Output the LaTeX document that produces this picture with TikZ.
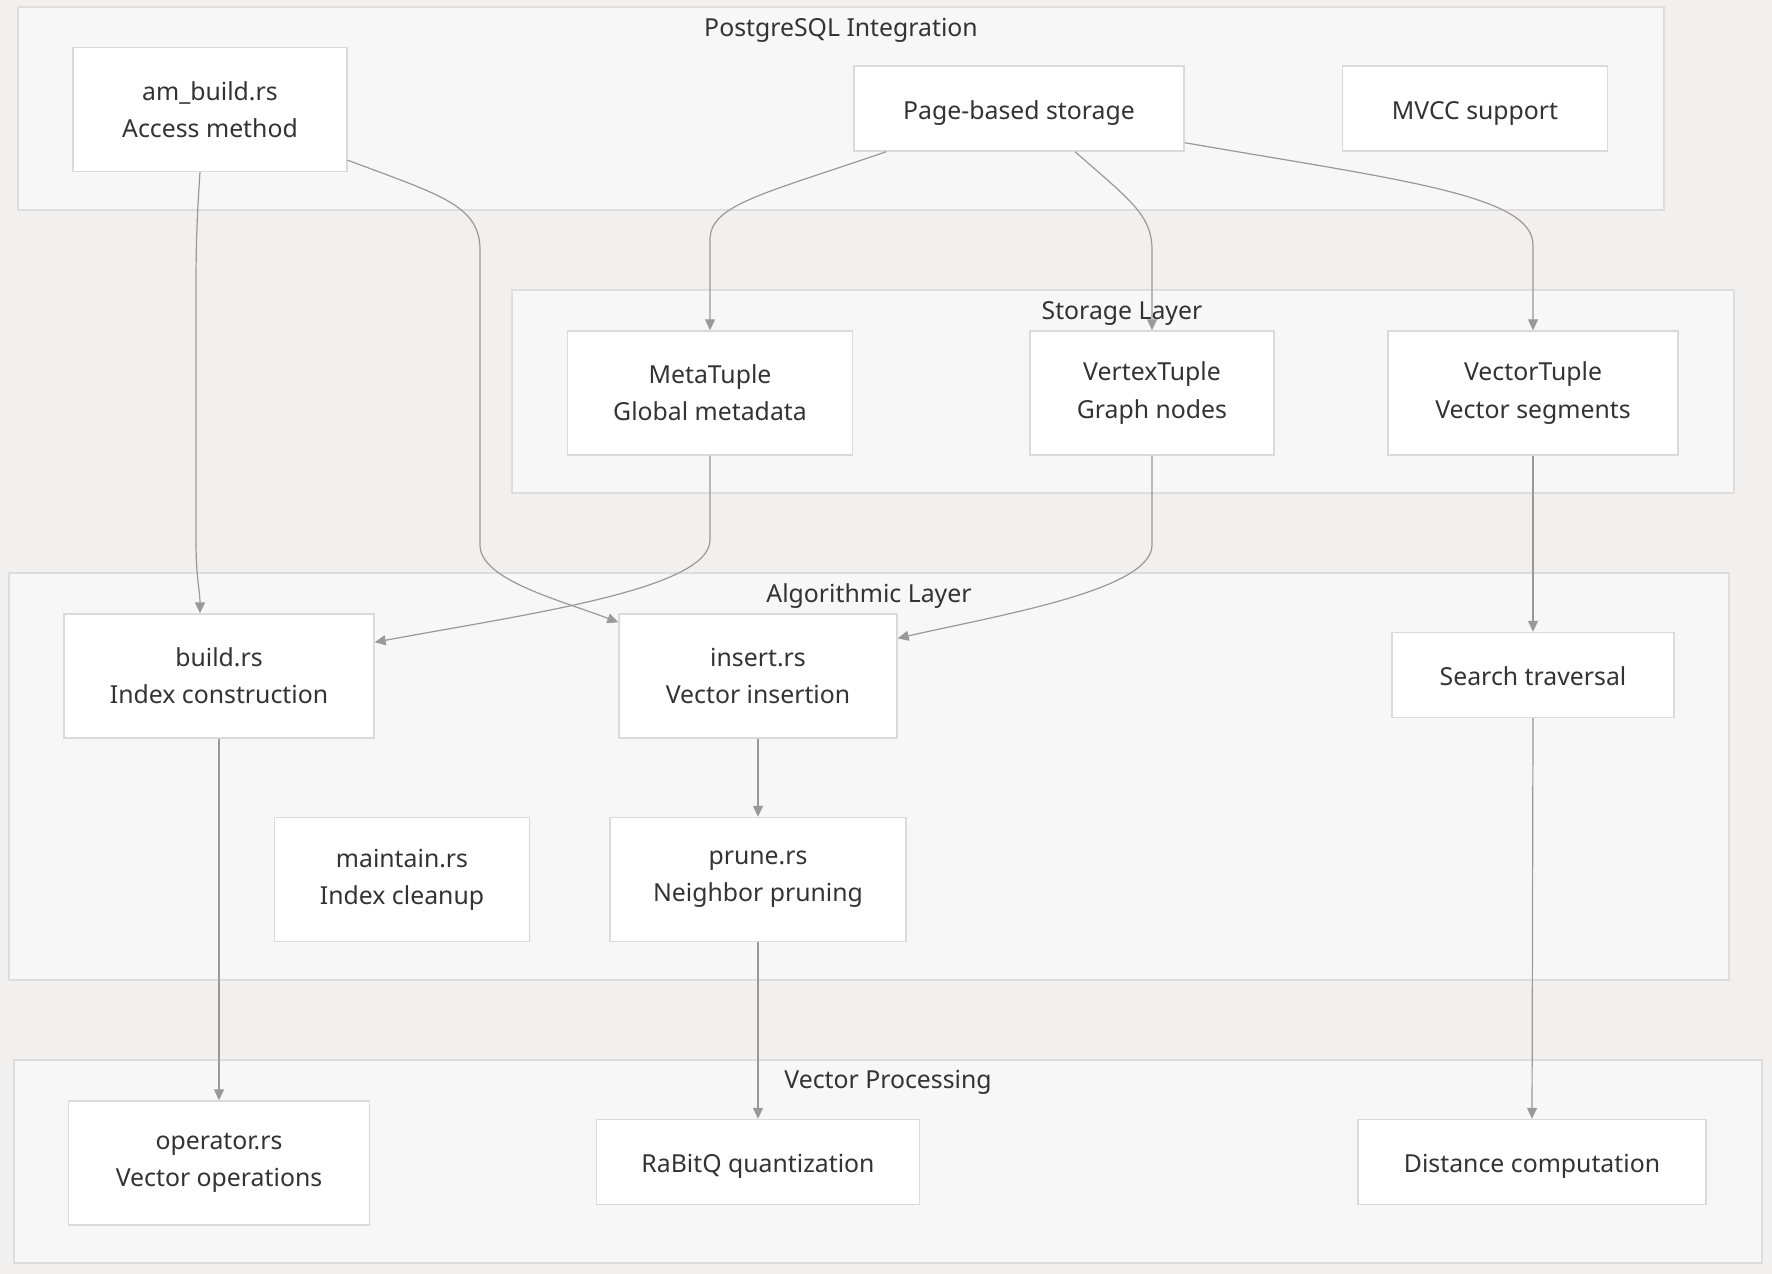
\documentclass[tikz,border=0pt]{standalone}
\usepackage{fontspec}
\setmainfont{Noto Sans}
\usetikzlibrary{arrows.meta,calc}
\definecolor{pagebg}{HTML}{F1F0EF}
\definecolor{groupbg}{HTML}{F7F7F7}
\definecolor{groupline}{HTML}{DDDDDD}
\definecolor{boxline}{HTML}{DADADA}
\definecolor{wire}{HTML}{999999}
\definecolor{ink}{HTML}{333333}
\begin{document}
\begin{tikzpicture}[x=0.5pt,y=-0.5pt,
  font=\fontsize{12.4}{18.6}\selectfont,
  group/.style={draw=groupline,fill=groupbg,line width=0.7pt},
  grouptitle/.style={text=ink,inner sep=0pt},
  box/.style={draw=boxline,fill=white,line width=0.7pt,text=ink,align=center,inner sep=0pt,minimum height=62pt},
  flat/.style={box,minimum height=42.5pt,text height=10.5pt,text depth=0pt},
  wired/.style={draw=wire,line width=0.6pt,-{Triangle[length=5.5pt,width=5pt]}}]
\fill[pagebg] (0,0) rectangle (1772,1274);
\useasboundingbox (0,0) rectangle (1772,1274);

\draw[group] (18,7) rectangle (1664,210);
\draw[group] (512,290) rectangle (1734,493);
\draw[group] (9,573) rectangle (1729,980);
\draw[group] (14,1060) rectangle (1762,1263);
\node[grouptitle] at (841,30.5) (tpg) {PostgreSQL Integration};
\node[grouptitle] at (1122,313.5) (tst) {Storage Layer};
\node[grouptitle] at (869,596.5) (tal) {Algorithmic Layer};
\node[grouptitle] at (888,1082.5) (tvp) {Vector Processing};

\node[box,minimum width=137pt] at (210,109.5) (ambuild) {am\_build.rs\\Access method};
\node[flat,minimum width=165pt] at (1019,108.5) (page) {Page-based storage};
\node[flat,minimum width=132.5pt] at (1475,108.5) (mvcc) {MVCC support};

\node[box,minimum width=142.5pt] at (710,393) (meta) {MetaTuple\\Global metadata};
\node[box,minimum width=122pt] at (1152,393) (vertex) {VertexTuple\\Graph nodes};
\node[box,minimum width=145pt] at (1533,393) (vectup) {VectorTuple\\Vector segments};

\node[box,minimum width=155pt] at (219,676) (buildrs) {build.rs\\Index construction};
\node[box,minimum width=139pt] at (758,676) (insert) {insert.rs\\Vector insertion};
\node[flat,minimum width=141pt] at (1533,675) (search) {Search traversal};
\node[box,minimum width=127.5pt] at (402,879.5) (maintain) {maintain.rs\\Index cleanup};
\node[box,minimum width=148pt] at (758,879.5) (prune) {prune.rs\\Neighbor pruning};

\node[box,minimum width=150.5pt] at (219,1163) (operator) {operator.rs\\Vector operations};
\node[flat,minimum width=161.5pt] at (758,1162) (rabitq) {RaBitQ quantization};
\node[flat,minimum width=174pt] at (1532,1162) (distance) {Distance computation};

\draw[wired] ($(ambuild.south)+(-10,0)$) .. controls (196,230) and (196,260) .. (196,300) -- (196,540) .. controls (196,580) and (200,590) .. ($(buildrs.north)+(-19,0)$);
\draw[wired] ($(ambuild.south east)+(0,-12)$) .. controls (440,195) and (480,205) .. (480,250) -- (480,545) .. controls (480,580) and (560,600) .. ($(insert.north west)+(0,9)$);
\draw[wired] ($(page.south west)+(33,0)$) .. controls (760,195) and (710,205) .. (710,240) -- (meta.north);
\draw[wired] ($(page.south)+(56,0)$) .. controls (1130,200) and (1152,215) .. (1152,250) -- (vertex.north);
\draw[wired] ($(page.south east)+(0,-9)$) .. controls (1400,180) and (1533,195) .. (1533,245) -- (vectup.north);
\draw[wired] (meta.south) -- (710,540) .. controls (710,590) and (520,615) .. ($(buildrs.north east)+(0,29)$);
\draw[wired] (vertex.south) -- (1152,545) .. controls (1152,590) and (1000,615) .. ($(insert.north east)+(0,25)$);
\draw[wired] (vectup.south) -- (search.north);
\draw[wired] (buildrs.south) -- (operator.north);
\draw[wired] (insert.south) -- (prune.north);
\draw[wired] (prune.south) -- (rabitq.north);
\draw[wired] (search.south) -- (distance.north);
\end{tikzpicture}
\end{document}
